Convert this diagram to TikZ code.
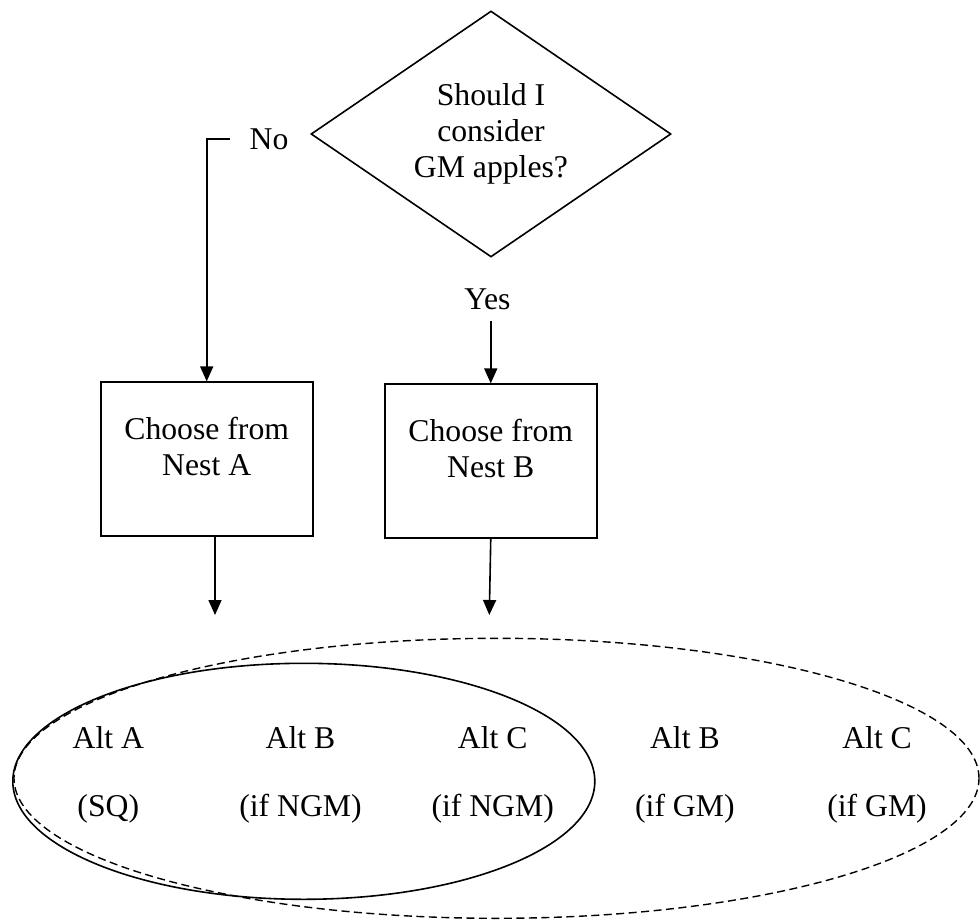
\documentclass[tikz,border=0pt]{standalone}
\usepackage{fontspec}
\setmainfont{Liberation Serif}
\usetikzlibrary{arrows.meta,matrix,positioning,shapes.geometric}

\begin{document}
\begin{tikzpicture}[x=1pt, y=-1pt, line width=1.6pt,
    >={Triangle[length=15pt,width=13pt]},
    every node/.style={font=\fontsize{31.7}{36}\selectfont},
    question/.style={draw, diamond, aspect=1.46, minimum width=360pt,
      minimum height=246pt, inner sep=0pt, align=center},
    nestbox/.style={draw, minimum width=212pt, minimum height=154pt, inner sep=0pt},
    alt/.style={minimum width=192.2pt, inner sep=0pt, text height=22pt, text depth=7pt},
    groupline/.style={dash pattern=on 8pt off 4.5pt, line width=1.4pt}]

  \useasboundingbox (0,0) rectangle (980,920) ;

  \node [question] (q) at (491,134) {Should I\\consider\\GM apples?} ;
  \node [inner xsep=19pt] (no) at (269,139) {No} ;
  \node (yes) at (487.5,299.5) {Yes} ;

  \node [nestbox] (boxA) at (206.7,459.2) {} ;
  \node [nestbox] (boxB) at (490.75,461.2) {} ;
  \node [align=center] (textA) at (206.7,446.5) {Choose from\\Nest A} ;
  \node [align=center] (textB) at (490.75,448.5) {Choose from\\Nest B} ;

  \draw [->] (no.west) -| (boxA.north) ;
  \path [->] ([yshift=-7pt]yes.south -| boxB) edge (boxB) ;

  \coordinate (endA) at (215,615) ;
  \coordinate (endB) at (489.3,615) ;
  \path [->] (boxA.south -| endA) edge (endA) ;
  \path [->] (boxB.south) edge (endB) ;

  \matrix (alts) [matrix of nodes, nodes={alt}, row sep=39.4pt, column sep=0pt,
    inner sep=0pt] at (492.7,775)
  %
  { Alt A & Alt B & Alt C & Alt B & Alt C \\
    (SQ) & (if NGM) & (if NGM) & (if GM) & (if GM) \\ } ;

  \coordinate (ngm) at (303.8,781.3) ;
  \coordinate (all) at (496.5,778.3) ;
  \draw (ngm) ellipse [x radius=291pt, y radius=118pt] ;
  \draw [groupline] (all) ellipse [x radius=482.5pt, y radius=140pt] ;

\end{tikzpicture}
\end{document}
